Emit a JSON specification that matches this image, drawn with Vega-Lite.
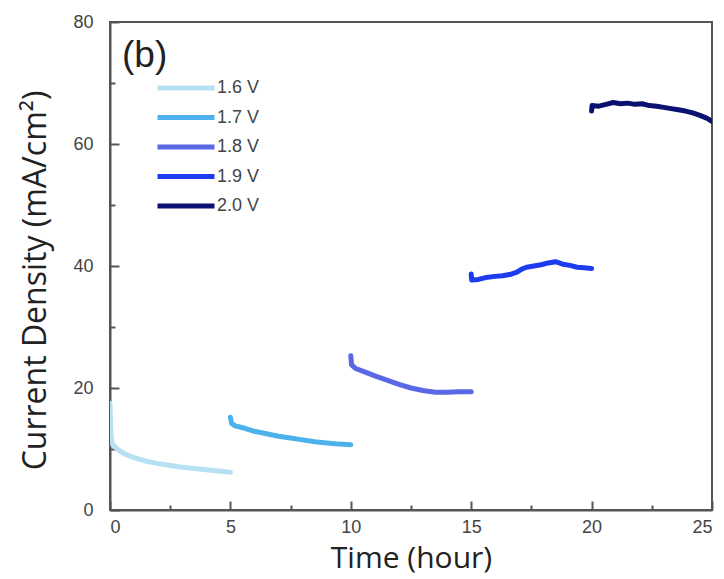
{
  "$schema": "https://vega.github.io/schema/vega-lite/v6.json",
  "autosize": "none",
  "width": 602,
  "height": 488,
  "padding": {"left": 110, "top": 22, "right": 12, "bottom": 69},
  "background": "white",
  "config": {
    "view": {"stroke": "#555", "strokeWidth": 2},
    "font": "Liberation Sans"
  },
  "datasets": {
    "curves": [
      {"series": "1.6 V", "t": 0, "v": 17.5},
      {"series": "1.6 V", "t": 0.02, "v": 14},
      {"series": "1.6 V", "t": 0.05, "v": 12},
      {"series": "1.6 V", "t": 0.1, "v": 10.8},
      {"series": "1.6 V", "t": 0.3, "v": 10.0},
      {"series": "1.6 V", "t": 0.6, "v": 9.2},
      {"series": "1.6 V", "t": 1.0, "v": 8.6},
      {"series": "1.6 V", "t": 1.5, "v": 8.0},
      {"series": "1.6 V", "t": 2.0, "v": 7.6},
      {"series": "1.6 V", "t": 2.5, "v": 7.3},
      {"series": "1.6 V", "t": 3.0, "v": 7.0},
      {"series": "1.6 V", "t": 3.5, "v": 6.8},
      {"series": "1.6 V", "t": 4.0, "v": 6.6},
      {"series": "1.6 V", "t": 4.5, "v": 6.4},
      {"series": "1.6 V", "t": 5.0, "v": 6.2},
      {"series": "1.7 V", "t": 5.0, "v": 15.2},
      {"series": "1.7 V", "t": 5.05, "v": 14.2},
      {"series": "1.7 V", "t": 5.2, "v": 13.8},
      {"series": "1.7 V", "t": 5.6, "v": 13.4},
      {"series": "1.7 V", "t": 6.0, "v": 12.9},
      {"series": "1.7 V", "t": 6.5, "v": 12.5},
      {"series": "1.7 V", "t": 7.0, "v": 12.1},
      {"series": "1.7 V", "t": 7.5, "v": 11.8},
      {"series": "1.7 V", "t": 8.0, "v": 11.5},
      {"series": "1.7 V", "t": 8.5, "v": 11.2},
      {"series": "1.7 V", "t": 9.0, "v": 11.0},
      {"series": "1.7 V", "t": 9.5, "v": 10.8},
      {"series": "1.7 V", "t": 10.0, "v": 10.7},
      {"series": "1.8 V", "t": 10.0, "v": 25.3},
      {"series": "1.8 V", "t": 10.03, "v": 23.8},
      {"series": "1.8 V", "t": 10.2, "v": 23.2},
      {"series": "1.8 V", "t": 10.6, "v": 22.6},
      {"series": "1.8 V", "t": 11.0, "v": 22.0},
      {"series": "1.8 V", "t": 11.5, "v": 21.3},
      {"series": "1.8 V", "t": 12.0, "v": 20.6},
      {"series": "1.8 V", "t": 12.5, "v": 20.0},
      {"series": "1.8 V", "t": 13.0, "v": 19.6},
      {"series": "1.8 V", "t": 13.5, "v": 19.3},
      {"series": "1.8 V", "t": 14.0, "v": 19.3},
      {"series": "1.8 V", "t": 14.5, "v": 19.4},
      {"series": "1.8 V", "t": 15.0, "v": 19.4},
      {"series": "1.9 V", "t": 15.0, "v": 38.7},
      {"series": "1.9 V", "t": 15.02, "v": 37.7},
      {"series": "1.9 V", "t": 15.3, "v": 37.8},
      {"series": "1.9 V", "t": 15.6, "v": 38.1},
      {"series": "1.9 V", "t": 16.0, "v": 38.3},
      {"series": "1.9 V", "t": 16.3, "v": 38.4},
      {"series": "1.9 V", "t": 16.6, "v": 38.6},
      {"series": "1.9 V", "t": 16.9, "v": 39.0},
      {"series": "1.9 V", "t": 17.1, "v": 39.5},
      {"series": "1.9 V", "t": 17.3, "v": 39.8},
      {"series": "1.9 V", "t": 17.6, "v": 40.0},
      {"series": "1.9 V", "t": 17.9, "v": 40.2},
      {"series": "1.9 V", "t": 18.2, "v": 40.5},
      {"series": "1.9 V", "t": 18.5, "v": 40.7},
      {"series": "1.9 V", "t": 18.8, "v": 40.3},
      {"series": "1.9 V", "t": 19.1, "v": 40.1},
      {"series": "1.9 V", "t": 19.4, "v": 39.8},
      {"series": "1.9 V", "t": 19.7, "v": 39.7},
      {"series": "1.9 V", "t": 20.0, "v": 39.6},
      {"series": "2.0 V", "t": 20.0, "v": 65.4},
      {"series": "2.0 V", "t": 20.02, "v": 66.3},
      {"series": "2.0 V", "t": 20.3, "v": 66.2},
      {"series": "2.0 V", "t": 20.6, "v": 66.5},
      {"series": "2.0 V", "t": 20.9, "v": 66.8},
      {"series": "2.0 V", "t": 21.2, "v": 66.6},
      {"series": "2.0 V", "t": 21.5, "v": 66.7},
      {"series": "2.0 V", "t": 21.8, "v": 66.5},
      {"series": "2.0 V", "t": 22.1, "v": 66.6},
      {"series": "2.0 V", "t": 22.4, "v": 66.3},
      {"series": "2.0 V", "t": 22.7, "v": 66.2},
      {"series": "2.0 V", "t": 23.0, "v": 66.0},
      {"series": "2.0 V", "t": 23.3, "v": 65.8},
      {"series": "2.0 V", "t": 23.6, "v": 65.6},
      {"series": "2.0 V", "t": 23.9, "v": 65.4},
      {"series": "2.0 V", "t": 24.2, "v": 65.1},
      {"series": "2.0 V", "t": 24.5, "v": 64.7},
      {"series": "2.0 V", "t": 24.8, "v": 64.2},
      {"series": "2.0 V", "t": 25.0, "v": 63.7}
    ]
  },
  "layer": [
    {
      "data": {"name": "curves"},
      "mark": {"type": "line", "strokeWidth": 5, "strokeCap": "round", "strokeJoin": "round", "clip": true},
      "encoding": {
        "x": {
          "field": "t", "type": "quantitative",
          "scale": {"domain": [0, 25], "nice": false, "zero": false},
          "axis": {
            "title": "Time (hour)",
            "titleFont": "Open Sans", "titleFontSize": 30, "titleFontWeight": "normal", "titleColor": "#222", "titlePadding": 7,
            "values": [0, 2.5, 5, 7.5, 10, 12.5, 15, 17.5, 20, 22.5, 25],
            "labelExpr": "datum.value % 5 == 0 ? datum.label : ''",
            "labelFont": "Liberation Sans", "labelFontSize": 18, "labelColor": "#444", "labelPadding": 17,
            "tickSize": {"condition": {"test": "datum.value % 5 == 0", "value": -9}, "value": -5},
            "tickColor": "#555", "tickWidth": 2,
            "domainColor": "#555", "domainWidth": 2, "grid": false
          }
        },
        "y": {
          "field": "v", "type": "quantitative",
          "scale": {"domain": [0, 80], "nice": false},
          "axis": {
            "title": "Current Density (mA/cm²)",
            "titleFont": "Open Sans", "titleFontSize": 32, "titleFontWeight": "normal", "titleColor": "#222", "titlePadding": 20,
            "titleY": 258,
            "values": [0, 10, 20, 30, 40, 50, 60, 70, 80],
            "labelExpr": "datum.value % 20 == 0 ? datum.label : ''",
            "labelFont": "Liberation Sans", "labelFontSize": 18, "labelColor": "#444", "labelPadding": 26,
            "tickSize": {"condition": {"test": "datum.value % 20 == 0", "value": -9}, "value": -5},
            "tickColor": "#555", "tickWidth": 2,
            "domainColor": "#555", "domainWidth": 2, "grid": false
          }
        },
        "color": {
          "field": "series", "type": "nominal",
          "scale": {
            "domain": ["1.6 V", "1.7 V", "1.8 V", "1.9 V", "2.0 V"],
            "range": ["#b5e1f3", "#4cb2ec", "#5a68e6", "#1d3cf0", "#0a1170"]
          },
          "legend": {
            "title": null,
            "orient": "none",
            "legendX": 45,
            "legendY": 57,
            "symbolType": "stroke",
            "symbolSize": 3249,
            "symbolStrokeWidth": 5,
            "labelFont": "Liberation Sans", "labelFontSize": 18, "labelColor": "#444",
            "labelOffset": 0,
            "clipHeight": 18,
            "rowPadding": 11.5
          }
        },
        "detail": {"field": "series"}
      }
    },
    {
      "data": {"values": [{}]},
      "mark": {"type": "text", "fontSize": 37, "font": "Liberation Sans", "align": "left", "baseline": "alphabetic", "color": "#222"},
      "encoding": {
        "x": {"datum": 0.5},
        "y": {"datum": 72.6},
        "text": {"value": "(b)"}
      }
    }
  ]
}
